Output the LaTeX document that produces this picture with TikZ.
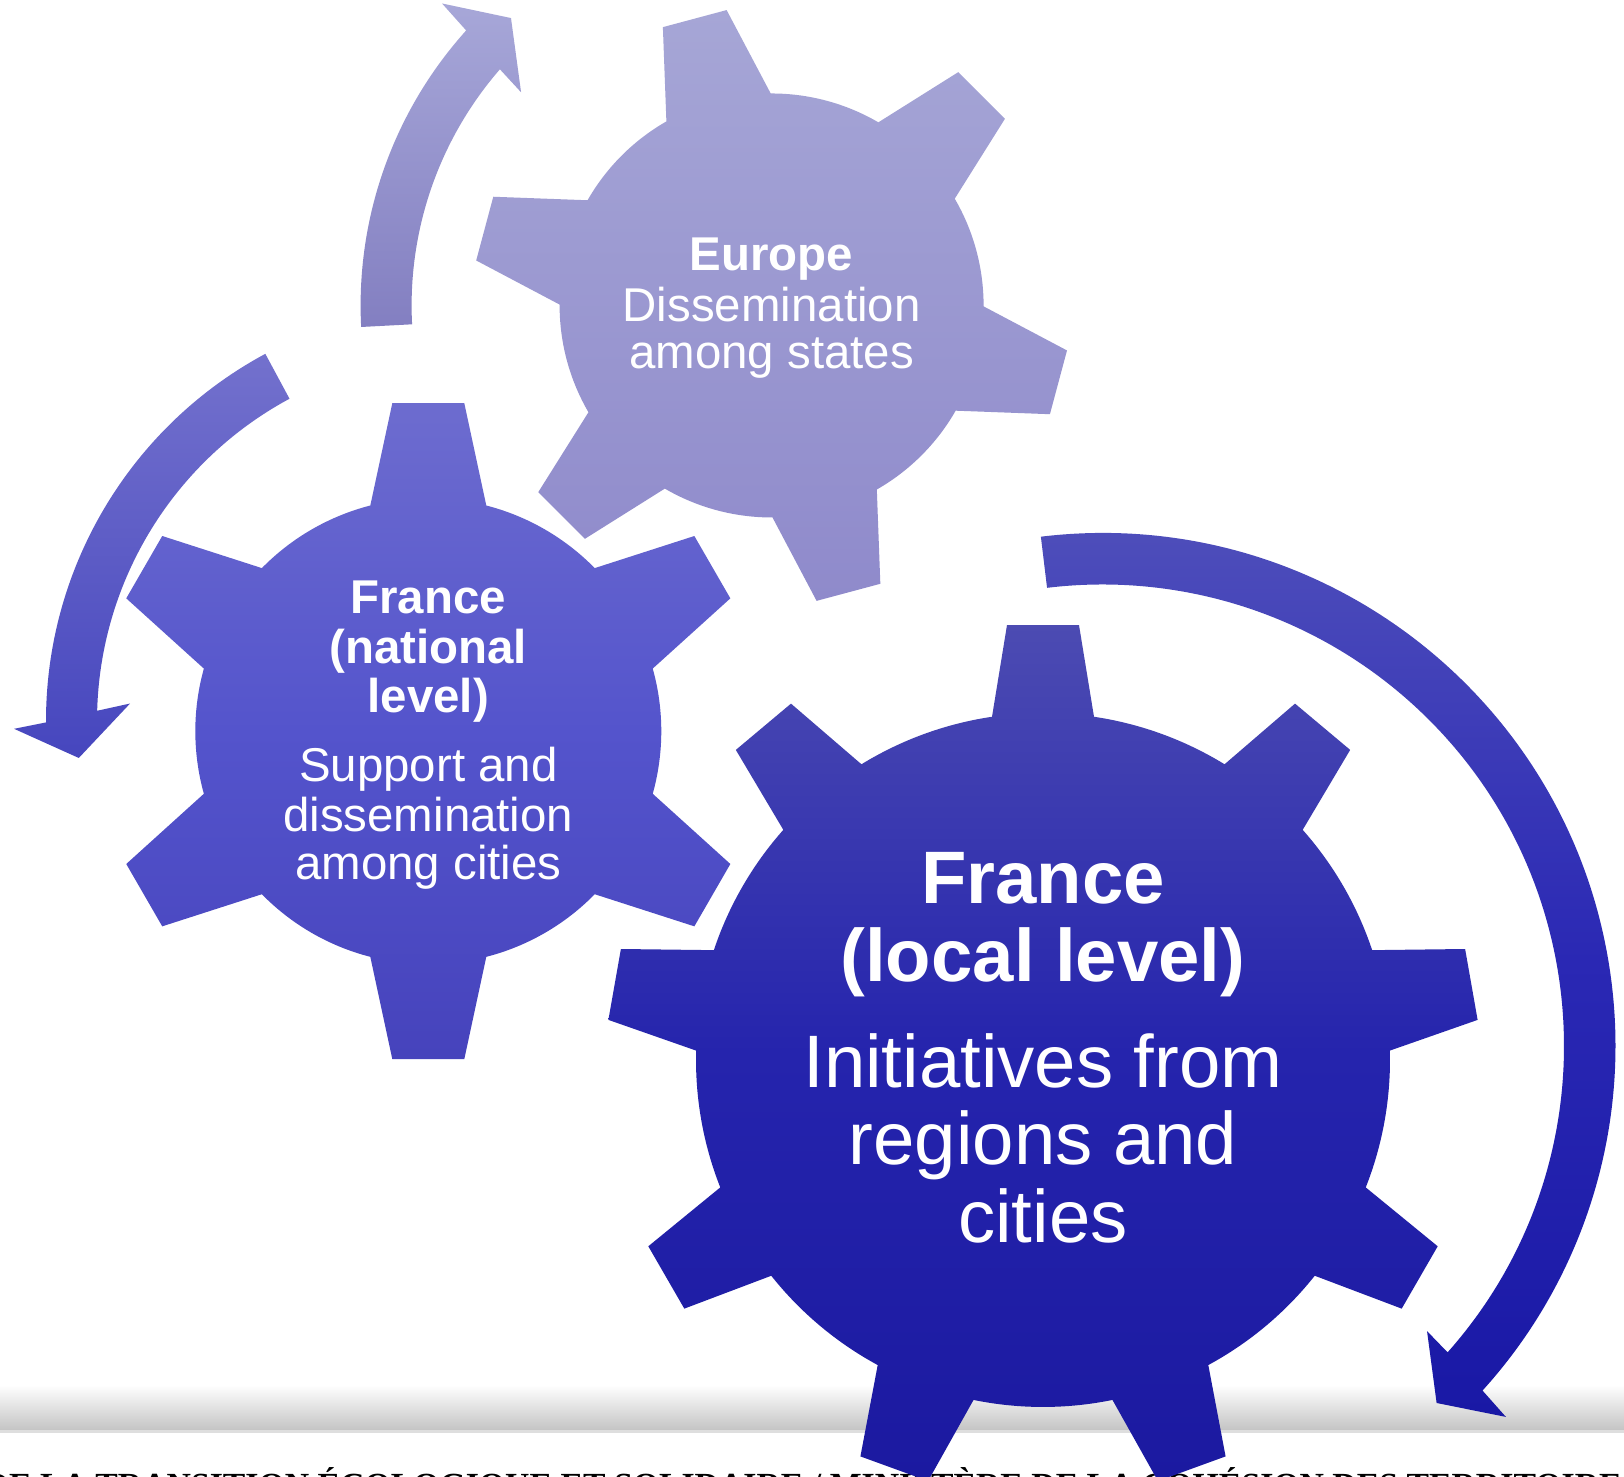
\documentclass[tikz,border=0pt]{standalone}
\usepackage{fontspec}
\setmainfont{Liberation Sans}
\newfontfamily\footfont{Liberation Serif}
\definecolor{eutop}{HTML}{A6A6D6}
\definecolor{eubot}{HTML}{8F8ACB}
\definecolor{uptop}{HTML}{A7A7D8}
\definecolor{upbot}{HTML}{837FC1}
\definecolor{lftop}{HTML}{7371CD}
\definecolor{lfbot}{HTML}{4646BE}
\definecolor{nattop}{HTML}{6D6CCF}
\definecolor{natmid}{HTML}{5454CC}
\definecolor{natbot}{HTML}{4643BC}
\definecolor{bigtop}{HTML}{4C4BB2}
\definecolor{bigmid}{HTML}{2524AD}
\definecolor{bigbot}{HTML}{1B19A0}
\definecolor{rttop}{HTML}{5050BB}
\definecolor{rtmid}{HTML}{2A28B4}
\definecolor{rtbot}{HTML}{1918A5}
\definecolor{footgray}{HTML}{C4C4C4}
\definecolor{footline}{HTML}{DEDEDE}
\newcommand\drawgear[8]{% #1 style, #2 centre, #3 teeth, #4 phase, #5 Rin, #6 Rout, #7 root half width, #8 tip half width
  \begin{scope}[shift={#2}]
    \pgfmathsetmacro\gar{asin(#7/#5)}
    \pgfmathsetmacro\gat{atan(#8/#6)}
    \pgfmathsetmacro\grt{#6/cos(\gat)}
    \pgfmathsetmacro\gst{360/#3}
    \pgfmathtruncatemacro\gnm{#3-1}
    \shade[#1] ({#4-\gar}:#5)
      \foreach \gk [evaluate=\gk as \ga using #4+\gst*\gk] in {0,...,\gnm} {
        -- ({\ga-\gar}:#5) -- ({\ga-\gat}:\grt) -- ({\ga+\gat}:\grt) -- ({\ga+\gar}:#5)
        arc[start angle={\ga+\gar}, end angle={\ga+\gst-\gar}, radius=#5]
      } -- cycle;
  \end{scope}
}
\begin{document}
\begin{tikzpicture}[x=0.01cm, y=0.01cm,
  eugear/.style={top color=eutop, bottom color=eubot},
  natgear/.style={top color=nattop, bottom color=natbot, middle color=natmid},
  biggear/.style={top color=bigtop, bottom color=bigbot, middle color=bigmid},
  uparrow/.style={top color=uptop, bottom color=upbot},
  leftarrow/.style={top color=lftop, bottom color=lfbot},
  rightarrow/.style={top color=rttop, bottom color=rtbot, middle color=rtmid},
  smtxt/.style={text=white, anchor=base, inner sep=0pt, font=\fontsize{13.49}{14}\selectfont},
  smbold/.style={smtxt, font=\fontsize{13.49}{14}\selectfont\bfseries},
  bigtxt/.style={text=white, anchor=base, inner sep=0pt, font=\fontsize{21.14}{22}\selectfont},
  bigbold/.style={bigtxt, font=\fontsize{21.14}{22}\selectfont\bfseries},
  foottxt/.style={text=black, anchor=base west, inner sep=0pt, font=\footfont\bfseries\fontsize{9.6}{12}\selectfont}]
\useasboundingbox (0,0) rectangle (1624,1477);
\clip (0,0) rectangle (1624,1477);
\fill[white] (0,0) rectangle (1624,1477);
% footer band
\shade[top color=white, bottom color=footgray] (0,47) rectangle (1624,92);
\fill[footline] (0,44) rectangle (1624,47);
\node[foottxt] (foot) at (-16,-20) {DE LA TRANSITION ÉCOLOGIQUE ET SOLIDAIRE / MINISTÈRE DE LA COHÉSION DES TERRITOIRES};
% upper arrow (around Europe gear)
\begin{scope}[shift={(771.6,1171.5)}]
  \shade[uparrow] (183:411) arc[start angle=183, end angle=138, radius=411]
    -- (137.5:447) -- (132.2:388) -- (139.6:329) -- (139:360)
    arc[start angle=139, end angle=183, radius=360] -- cycle;
\end{scope}
% left arrow
\begin{scope}[shift={(463,756)}]
  \shade[leftarrow] (118.3:417) arc[start angle=118.3, end angle=180.2, radius=417]
    -- (181:449) -- (185.5:386) -- (177:333.4) -- (178.4:366)
    arc[start angle=178.4, end angle=118.3, radius=366] -- cycle;
\end{scope}
% right arrow
\begin{scope}[shift={(1102.5,431)}]
  \shade[rightarrow] (96.9:513) arc[start angle=96.9, end angle=-42.2, radius=513]
    -- (-42.6:548) -- (-46.9:489) -- (-41.3:432) -- (-41.6:461.5)
    arc[start angle=-41.6, end angle=96.9, radius=461.5] -- cycle;
\end{scope}
% gears
\drawgear{eugear}{(771.6,1171.5)}{6}{45}{212}{297}{54}{33}
\drawgear{natgear}{(428.3,745.8)}{6}{90}{233}{328}{58}{36}
\drawgear{biggear}{(1043,417)}{9}{90}{347}{435}{51}{36}
% texts
\node[smbold] (eu1) at (771.6,1206.5) {Europe};
\node[smtxt] (eu2) at (771.6,1155.5) {Dissemination};
\node[smtxt] (eu3) at (771.6,1108) {among states};
\node[smbold] (nat1) at (428.3,863) {France};
\node[smbold] (nat2) at (428.3,813) {(national};
\node[smbold] (nat3) at (428.3,764.4) {level)};
\node[smtxt] (nat4) at (428.3,695) {Support and};
\node[smtxt] (nat5) at (428.3,645.3) {dissemination};
\node[smtxt] (nat6) at (428.3,597) {among cities};
\node[bigbold] (big1) at (1043,573.3) {France};
\node[bigbold] (big2) at (1043,495) {(local level)};
\node[bigtxt] (big3) at (1043,389) {Initiatives from};
\node[bigtxt] (big4) at (1043,312) {regions and};
\node[bigtxt] (big5) at (1043,234) {cities};
\end{tikzpicture}
\end{document}
